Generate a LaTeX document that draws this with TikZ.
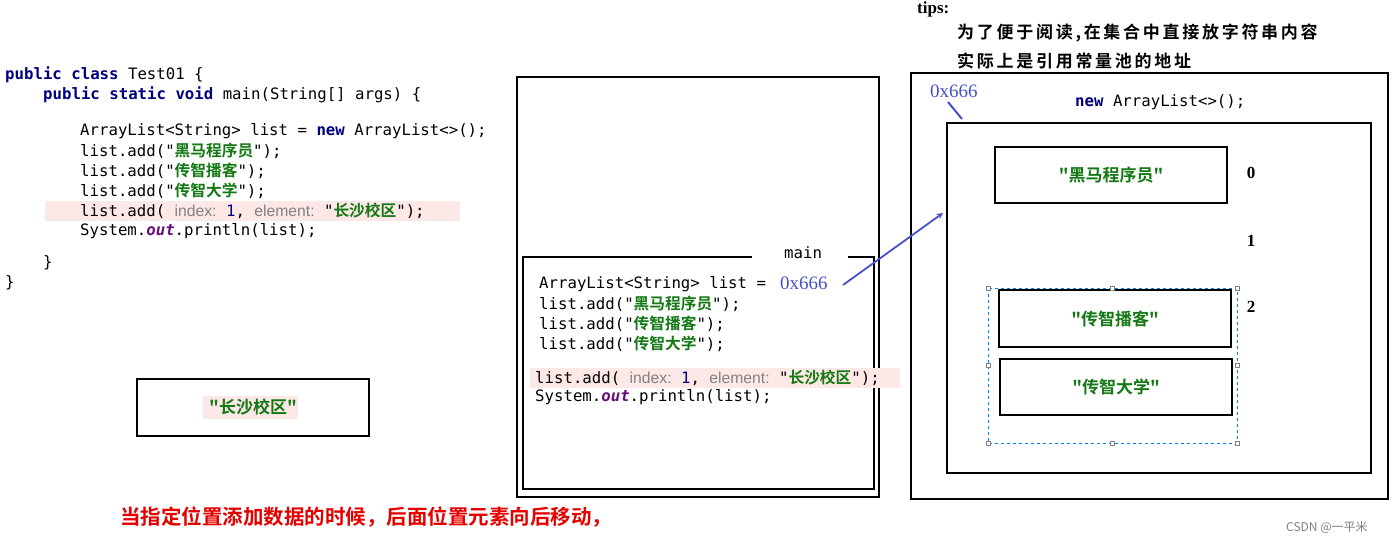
\documentclass[tikz,border=0pt]{standalone}
\usepackage{fontspec}
\setmonofont{DejaVu Sans Mono}
\newfontfamily\cjk{Noto Sans CJK SC}
\newfontfamily\cjkb{Noto Sans CJK SC Bold}
\newfontfamily\cjkbs[LetterSpace=16]{Noto Sans CJK SC Bold}
\setmainfont{Liberation Serif}
\definecolor{kw}{RGB}{0,0,128}
\definecolor{str}{RGB}{20,120,20}
\definecolor{hl}{RGB}{252,232,230}
\definecolor{addr}{RGB}{70,80,200}
\definecolor{hint}{RGB}{130,130,130}
\definecolor{outc}{RGB}{102,14,122}
\tikzset{
 code/.style={anchor=west,inner sep=0,font=\ttfamily\fontsize{15.7}{17}\selectfont},
 frame/.style={draw=black,line width=2.2pt},
 cell/.style={draw=black,line width=2pt},
 celltxt/.style={font=\cjkb\fontsize{17}{19}\selectfont,text=str},
 idx/.style={font=\bfseries\fontsize{17}{19}\selectfont},
 handle/.style={draw=gray,fill=white,minimum size=4pt,inner sep=0},
}
\newcommand{\kwd}[1]{\textbf{\color{kw}#1}}
\newcommand{\cs}[1]{{\color{str}\cjkb #1}}
\newcommand{\hn}[1]{{\color{hint}\fontspec{Liberation Sans}#1}}
\begin{document}
\begin{tikzpicture}[x=1pt,y=-1pt]
\useasboundingbox (0,0) rectangle (1400,545);
% left code
\fill[hl] (45,201) rectangle (460,221);
\node[code] (c1) at (5,75) {\kwd{public class} Test01 \{};
\node[code] (c2) at (43,95) {\kwd{public static void} main(String[] args) \{};
\node[code] (c3) at (80,131) {ArrayList<String> list = \kwd{new} ArrayList<>();};
\node[code] (c4) at (80,151) {list.add("\cs{黑马程序员}");};
\node[code] (c5) at (80,171) {list.add("\cs{传智播客}");};
\node[code] (c6) at (80,191) {list.add("\cs{传智大学}");};
\node[code] (c7) at (80,211) {list.add( \hn{index:} {\color{kw}1},  \hn{element:} "\cs{长沙校区}");};
\node[code] (c8) at (80,231) {System.{\color{outc}\itshape\bfseries out}.println(list);};
\node[code] (c9) at (43,263) {\}};
\node[code] (c10) at (5,283) {\}};
% standalone box
\draw[cell] (137,379) rectangle (369,436);
\fill[hl] (203,396) rectangle (298,419);
\node[celltxt] (cs) at (253,407) {"长沙校区"};
% stack
\draw[frame] (517,77) rectangle (879,497);
\draw[frame] (752,257) -- (523,257) -- (523,489) -- (874,489) -- (874,257) -- (848,257);
\node[code] (mainlbl) at (784,253) {main};
\fill[hl] (530,368) rectangle (900,388);
\node[code] (s1) at (539,284) {ArrayList<String> list =};
\node[anchor=west,inner sep=0,text=addr,font=\fontsize{19}{20}\selectfont] (addr1) at (780,283) {0x666};
\node[code] (s2) at (539,304) {list.add("\cs{黑马程序员}");};
\node[code] (s3) at (539,324) {list.add("\cs{传智播客}");};
\node[code] (s4) at (539,344) {list.add("\cs{传智大学}");};
\node[code] (s5) at (535,378) {list.add( \hn{index:} {\color{kw}1},  \hn{element:} "\cs{长沙校区}");};
\node[code] (s6) at (535,397) {System.{\color{outc}\itshape\bfseries out}.println(list);};
% heap
\draw[frame] (911,73) rectangle (1388,499);
\draw[frame] (947,123) rectangle (1371,473);
\node[anchor=west,inner sep=0,text=addr,font=\fontsize{19}{20}\selectfont] (addr2) at (930,91) {0x666};
\coordinate (t1) at (948,102); \coordinate (t2) at (962,119);
\draw[addr,line width=2pt] (t1) -- (t2);
\node[code] (newal) at (1075,102) {\kwd{new} ArrayList<>();};
\coordinate (arrs) at (843,285); \coordinate (arre) at (943,213);
\draw[addr,line width=1.8pt,-stealth] (arrs) -- (arre);
\node[cell,minimum width=232pt,minimum height=56pt,celltxt] (b0) at (1111,175) {"黑马程序员"};
\node[cell,minimum width=232pt,minimum height=57pt,celltxt] (b2) at (1115,318.5) {"传智播客"};
\node[cell,minimum width=232pt,minimum height=56pt,celltxt] (b3) at (1116,387) {"传智大学"};
\node[idx] (i0) at (1251,173) {0};
\node[idx] (i1) at (1251,241) {1};
\node[idx] (i2) at (1251,307) {2};
\draw[blue!50!cyan,dashed,line width=0.6pt] (988,288) rectangle (1237,443);
\foreach \p in {(988,288),(1112,288),(1237,288),(988,365),(1237,365),(988,443),(1112,443),(1237,443)}
  \node[handle] at \p {};
% tips
\node[anchor=west,inner sep=0,font=\bfseries\fontsize{17}{19}\selectfont] (tips) at (917,9) {tips:};
\node[anchor=west,inner sep=0,font=\cjkbs\fontsize{17}{20}\selectfont] (tp1) at (957,33) {为了便于阅读,在集合中直接放字符串内容};
\node[anchor=west,inner sep=0,font=\cjkbs\fontsize{17}{20}\selectfont] (tp2) at (957,61) {实际上是引用常量池的地址};
% bottom
\node[anchor=west,inner sep=0,text=red!90!black,font=\cjkb\fontsize{20.5}{22}\selectfont] (note) at (120,517) {当指定位置添加数据的时候，后面位置元素向后移动，};
\node[anchor=west,inner sep=0,text=gray,font=\cjk\fontsize{12}{14}\selectfont] (wm) at (1286,528) {CSDN @一平米};
\end{tikzpicture}
\end{document}
